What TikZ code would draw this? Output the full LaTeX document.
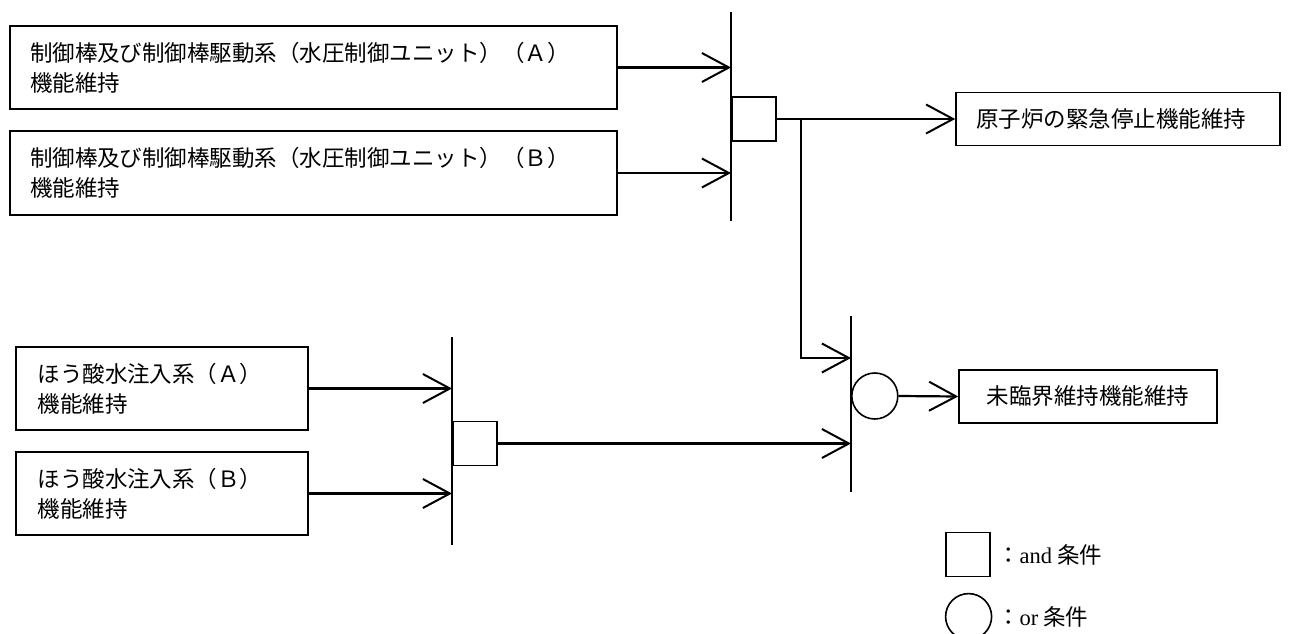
\documentclass[tikz,border=0pt]{standalone}
\usepackage{fontspec}
\setmainfont{Noto Sans CJK JP}
\newfontfamily\lat{Liberation Serif}
\usetikzlibrary{arrows.meta}
\begin{document}
\begin{tikzpicture}[x=1pt,y=-1pt,
  txt/.style={font=\fontsize{22.5}{30}\selectfont},
  box/.style={draw, line width=1.6pt, rectangle, inner sep=0pt, txt, align=left},
  andgate/.style={draw, line width=1.6pt, rectangle, minimum size=44pt, inner sep=0pt},
  orgate/.style={draw, line width=1.6pt, circle, minimum size=46pt, inner sep=0pt},
  barline/.style={line width=1.6pt},
  conn/.style={line width=2.2pt},
  arr/.style={line width=2.2pt, -{Straight Barb[length=27pt,width=29pt,line width=2pt]}}
]
\useasboundingbox (0,0) rectangle (1290,634);

% input boxes (upper)
\node[box, minimum width=607pt, minimum height=83pt, text width=567pt] (ca) at (313.5,67.5)
  {制御棒及び制御棒駆動系（水圧制御ユニット）（Ａ）\\機能維持};
\node[box, minimum width=607pt, minimum height=84pt, text width=567pt] (cb) at (313.5,173)
  {制御棒及び制御棒駆動系（水圧制御ユニット）（Ｂ）\\機能維持};

% input boxes (lower)
\node[box, minimum width=292pt, minimum height=83pt, text width=249pt] (ha) at (162,388.5)
  {ほう酸水注入系（Ａ）\\機能維持};
\node[box, minimum width=292pt, minimum height=83pt, text width=249pt] (hb) at (162,493.5)
  {ほう酸水注入系（Ｂ）\\機能維持};

% output boxes
\node[box, minimum width=324pt, minimum height=53pt, text width=284pt] (scram) at (1118,119)
  {原子炉の緊急停止機能維持};
\node[box, minimum width=258pt, minimum height=53pt, align=center] (subcrit) at (1088,396.5)
  {未臨界維持機能維持};

% bars
\coordinate (b1t) at (731,12);  \coordinate (b1b) at (731,221);
\coordinate (b2t) at (851,316); \coordinate (b2b) at (851,492);
\coordinate (b3t) at (452,337); \coordinate (b3b) at (452,545);
\draw[barline] (b1t) -- (b1b);
\draw[barline] (b2t) -- (b2b);
\draw[barline] (b3t) -- (b3b);

% gates
\node[andgate, anchor=west] (and1) at (731,119) {};
\node[andgate, anchor=west] (and2) at (452,443.5) {};
\node[orgate, anchor=west] (or1) at (851,396) {};

% connectors
\draw[arr] (ca.east) -- (ca.east -| b1t);
\draw[arr] (cb.east) -- (cb.east -| b1t);
\draw[arr] (ha.east) -- (ha.east -| b3t);
\draw[arr] (hb.east) -- (hb.east -| b3t);
\draw[arr] (and1.east) -- (scram.west);
\coordinate (jn) at (801,119);
\coordinate (or1in) at (851,358);
\draw[arr] (jn) |- (or1in);
\draw[arr] (and2.east) -- (and2.east -| b2t);
\draw[arr] (or1.east) -- (subcrit.west);

% legend
\node[andgate] (lgand) at (967.7,554.5) {};
\node[txt, anchor=west, inner sep=0pt] (lgandtxt) at (997,555) {：{\lat and} 条件};
\node[orgate] (lgor) at (968.6,616.6) {};
\node[txt, anchor=west, inner sep=0pt] (lgortxt) at (997,617) {：{\lat or} 条件};
\end{tikzpicture}
\end{document}
